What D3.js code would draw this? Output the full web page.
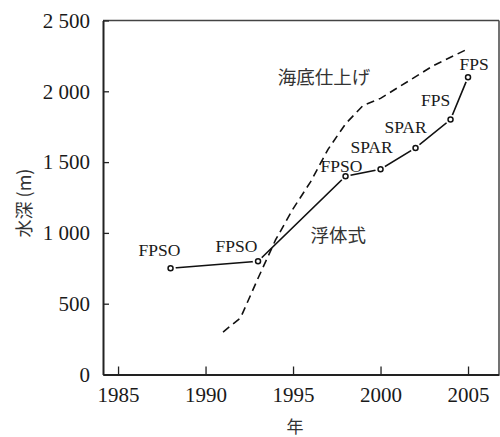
<!DOCTYPE html>
<html>
<head>
<meta charset="utf-8">
<script src="https://cdn.jsdelivr.net/npm/d3@7"></script>
<style>
  html, body { margin: 0; padding: 0; background: #fff; }
  svg { display: block; }
</style>
</head>
<body>
<svg id="chart" width="500" height="437"></svg>
<script>
// ---- data ----
const floatingYears  = [1988, 1993, 1998, 2000, 2002, 2004, 2005];
const floatingDepths = [750, 800, 1400, 1450, 1600, 1800, 2100];
const floatingTypes  = ["FPSO", "FPSO", "FPSO", "SPAR", "SPAR", "FPS", "FPS"];

const subseaYears  = [1991, 1992, 1993, 1994, 1995, 1996, 1997, 1998, 1999, 2000, 2003, 2005];
const subseaDepths = [300, 400, 680, 950, 1170, 1360, 1590, 1770, 1900, 1950, 2180, 2300];

const xTickValues = [1985, 1990, 1995, 2000, 2005];
const xTickLabels = ["1985", "1990", "1995", "2000", "2005"];
const yTickValues = [0, 500, 1000, 1500, 2000, 2500];
const yTickLabels = ["0", "500", "1 000", "1 500", "2 000", "2 500"];

const seriesNames = ["浮体式", "海底仕上げ"];
const xTitle = "年";
const yTitle = "水深 (m)";

// ---- layout ----
const svg = d3.select("#chart");
const L = 103, R = 499, T = 20.5, B = 374.5;
const x = d3.scaleLinear().domain([1984.14, 2006.77]).range([L, R]);
const y = d3.scaleLinear().domain([0, 2500]).range([B, T]);

const serif = "'Liberation Serif', 'Times New Roman', serif";
const cjk = "'Noto Sans CJK JP', 'Noto Sans CJK SC', sans-serif";

// frame top/right
svg.append("line").attr("x1", L).attr("x2", R).attr("y1", T).attr("y2", T)
  .attr("stroke", "#444").attr("stroke-width", 1.5);
svg.append("line").attr("x1", R).attr("x2", R).attr("y1", T).attr("y2", B)
  .attr("stroke", "#444").attr("stroke-width", 1.5);

// axes
const xAxis = d3.axisBottom(x).tickValues(xTickValues)
  .tickFormat((d, i) => xTickLabels[i]).tickSizeInner(-8).tickSizeOuter(0).tickPadding(13);
const yAxis = d3.axisLeft(y).tickValues(yTickValues)
  .tickFormat((d, i) => yTickLabels[i]).tickSizeInner(-6).tickSizeOuter(0).tickPadding(13);

const gx = svg.append("g").attr("transform", `translate(0,${B})`).call(xAxis);
const gy = svg.append("g").attr("transform", `translate(${L},0)`).call(yAxis);
[gx, gy].forEach(g => {
  g.attr("font-family", serif).attr("font-size", 21);
  g.select(".domain").attr("stroke", "#222").attr("stroke-width", 2);
  g.selectAll(".tick line").attr("stroke", "#222").attr("stroke-width", 1.3);
  g.selectAll(".tick text").attr("fill", "#1a1a1a")
    .style("font-family", serif).style("font-size", "21px");
});

// axis titles
svg.append("text").attr("x", 295).attr("y", 433)
  .attr("text-anchor", "middle").style("font-family", cjk).style("font-size", "17px")
  .attr("fill", "#333").text(xTitle);
svg.append("text").attr("transform", "translate(31,203) rotate(-90)")
  .attr("text-anchor", "middle").style("font-family", cjk).style("font-size", "18px")
  .attr("fill", "#333").text(yTitle);

// dashed subsea line
const subsea = subseaYears.map((d, i) => [d, subseaDepths[i]]);
svg.append("path").datum(subsea)
  .attr("d", d3.line().x(d => x(d[0])).y(d => y(d[1])))
  .attr("fill", "none").attr("stroke", "#111").attr("stroke-width", 1.6)
  .attr("stroke-dasharray", "8,5");

// solid floating line
const floating = floatingYears.map((d, i) => ({ yr: d, v: floatingDepths[i], t: floatingTypes[i] }));
svg.append("path").datum(floating)
  .attr("d", d3.line().x(d => x(d.yr)).y(d => y(d.v)))
  .attr("fill", "none").attr("stroke", "#111").attr("stroke-width", 1.6);

// halo + open markers
svg.selectAll("circle.halo").data(floating).join("circle").attr("class", "halo")
  .attr("cx", d => x(d.yr)).attr("cy", d => y(d.v)).attr("r", 5.2).attr("fill", "#fff");
svg.selectAll("circle.mk").data(floating).join("circle").attr("class", "mk")
  .attr("cx", d => x(d.yr)).attr("cy", d => y(d.v)).attr("r", 2.5)
  .attr("fill", "#fff").attr("stroke", "#111").attr("stroke-width", 1.5);

// point labels
const labelOffsets = [[-11, -18], [-21.5, -15], [-4, -10], [-9, -22], [-10, -21], [-15, -19], [6, -13]];
svg.selectAll("text.pl").data(floating).join("text").attr("class", "pl")
  .attr("x", (d, i) => x(d.yr) + labelOffsets[i][0])
  .attr("y", (d, i) => y(d.v) + labelOffsets[i][1] + 5.8)
  .attr("text-anchor", "middle").style("font-family", serif).style("font-size", "17.5px")
  .attr("fill", "#1a1a1a").text(d => d.t);

// series annotations
svg.append("text").attr("x", x(1994.13)).attr("y", y(2100) + 6.5)
  .style("font-family", cjk).style("font-size", "18.5px").attr("fill", "#333").text(seriesNames[1]);
svg.append("text").attr("x", x(1996.0)).attr("y", y(980) + 6.5)
  .style("font-family", cjk).style("font-size", "18.5px").attr("fill", "#333").text(seriesNames[0]);
</script>
</body>
</html>
